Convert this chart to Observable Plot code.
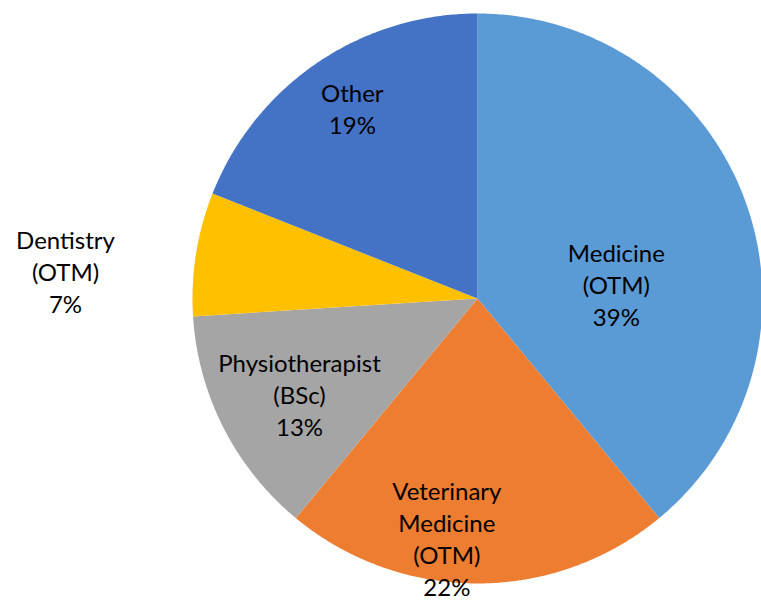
<!DOCTYPE html>
<html>
<head>
<meta charset="utf-8">
<script src="https://cdn.jsdelivr.net/npm/d3@7"></script>
<script src="https://cdn.jsdelivr.net/npm/@observablehq/plot@0.6"></script>
<style>
  html, body { margin: 0; padding: 0; background: #fff; }
  #chart svg { display: block; }
</style>
</head>
<body>
<div id="chart"></div>
<script>
// Data
const categories = ["Medicine (OTM)", "Veterinary Medicine (OTM)", "Physiotherapist (BSc)", "Dentistry (OTM)", "Other"];
const labelLines = [["Medicine", "(OTM)"], ["Veterinary", "Medicine", "(OTM)"], ["Physiotherapist", "(BSc)"], ["Dentistry", "(OTM)"], ["Other"]];
const shares = [39, 22, 13, 7, 19];
const colors = ["#5B9BD5", "#ED7D31", "#A5A5A5", "#FFC000", "#4472C4"];

// Label placement (style): radius fraction and angle nudge in degrees
const labelRadius = [0.49, 0.846, 0.708, 1.449, 0.80];
const labelNudge = [13.6, 7.3, -1.1, -5.1, 0.9];

const W = 761, H = 602;
const cx = 477, cy = 298, R = 285;

const total = d3.sum(shares);
const slices = [];
let acc = 0;
categories.forEach((c, i) => {
  const a0 = acc / total * 2 * Math.PI;
  acc += shares[i];
  const a1 = acc / total * 2 * Math.PI;
  slices.push({c, i, a0, a1});
});

const pts = [];
for (const s of slices) {
  pts.push({c: s.c, x: 0, y: 0});
  const n = Math.max(2, Math.ceil((s.a1 - s.a0) / (Math.PI / 360)));
  for (let k = 0; k <= n; k++) {
    const a = s.a0 + (s.a1 - s.a0) * k / n;
    pts.push({c: s.c, x: Math.sin(a), y: Math.cos(a)});
  }
}

const labels = slices.map(s => {
  const a = (s.a0 + s.a1) / 2 + labelNudge[s.i] * Math.PI / 180;
  const r = labelRadius[s.i];
  return {
    x: r * Math.sin(a),
    y: r * Math.cos(a),
    text: [...labelLines[s.i], shares[s.i] + "%"].join("\n")
  };
});

const chart = Plot.plot({
  width: W,
  height: H,
  margin: 0,
  x: {domain: [-cx / R, (W - cx) / R], axis: null},
  y: {domain: [-(H - cy) / R, cy / R], axis: null},
  color: {domain: categories, range: colors},
  style: {fontFamily: "Lato, 'Open Sans', sans-serif", background: "#fff"},
  marks: [
    Plot.line(pts, {x: "x", y: "y", z: "c", fill: "c", stroke: "none", curve: "linear-closed"}),
    Plot.text(labels, {x: "x", y: "y", text: "text", fontSize: 24, lineHeight: 1.34, fill: "#000"})
  ]
});
document.getElementById("chart").appendChild(chart);
</script>
</body>
</html>
